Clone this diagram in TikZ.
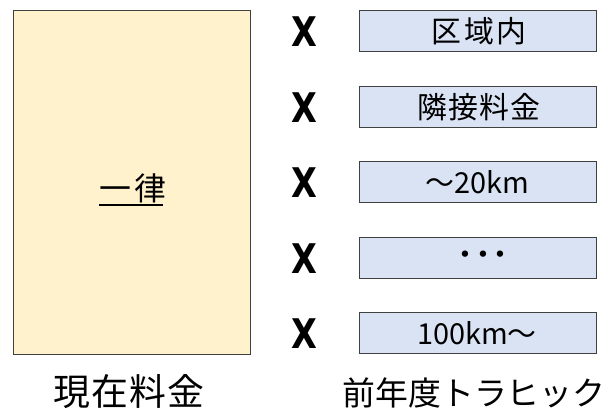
\documentclass[tikz,border=0pt]{standalone}
\usepackage{fontspec}
\newfontfamily\cjk{Noto Sans CJK JP}
\newfontfamily\xfont{DejaVu Sans}
\begin{document}
\begin{tikzpicture}[x=1bp,y=-1bp,
  leftbox/.style={draw=black!75, line width=0.8bp, fill=yellowfill},
  rightbox/.style={draw=black!75, line width=0.8bp, fill=bluefill},
  boxtext/.style={font=\cjk\fontsize{29}{30}\selectfont, inner sep=0pt},
  captext/.style={font=\cjk\fontsize{34}{36}\selectfont, inner sep=0pt},
  xmark/.style={font=\xfont\bfseries\fontsize{41}{42}\selectfont, inner sep=0pt}
]
\definecolor{yellowfill}{HTML}{FFF2CC}
\definecolor{bluefill}{HTML}{DAE3F3}
\useasboundingbox (0,0) rectangle (612,412);
% left box
\draw[leftbox] (13,10) rectangle (250,354);
\node[boxtext, font=\cjk\fontsize{32}{34}\selectfont\addfontfeatures{LetterSpace=8}] (yi) at (133,188) {一律};
\draw[line width=1.9bp] ([yshift=-5bp,xshift=-1bp]yi.base west) -- ([yshift=-5bp,xshift=-3bp]yi.base east);
\node[captext, font=\cjk\fontsize{37}{38}\selectfont\addfontfeatures{LetterSpace=3}] (genzai) at (129,392) {現在料金};
% right boxes
\draw[rightbox] (359,10) rectangle (596,51);
\draw[rightbox] (359,86) rectangle (596,127);
\draw[rightbox] (359,161) rectangle (596,202);
\draw[rightbox] (359,237) rectangle (596,278);
\draw[rightbox] (359,312) rectangle (596,353);
\node[boxtext, font=\cjk\fontsize{30}{30}\selectfont\addfontfeatures{LetterSpace=8}] (b1) at (479,31) {区域内};
\node[boxtext, font=\cjk\fontsize{30}{30}\selectfont\addfontfeatures{LetterSpace=4}] (b2) at (479,107) {隣接料金};
\node[boxtext] (b3) at (477,182) {～20km};
\node[boxtext, font=\cjk\fontsize{30}{30}\selectfont\addfontfeatures{LetterSpace=-42}] (b4) at (483,258) {・・・};
\node[boxtext] (b5) at (477,333) {100km～};
\foreach \i/\yy in {1/32, 2/108, 3/183, 4/259, 5/334}{
  \node[xmark] (x\i) at (304,\yy) {\scalebox{0.82}[1]{X}};
}
\node[captext, font=\cjk\fontsize{33}{34}\selectfont] (zennen) at (474,393) {前年度トラヒック};
\end{tikzpicture}
\end{document}
